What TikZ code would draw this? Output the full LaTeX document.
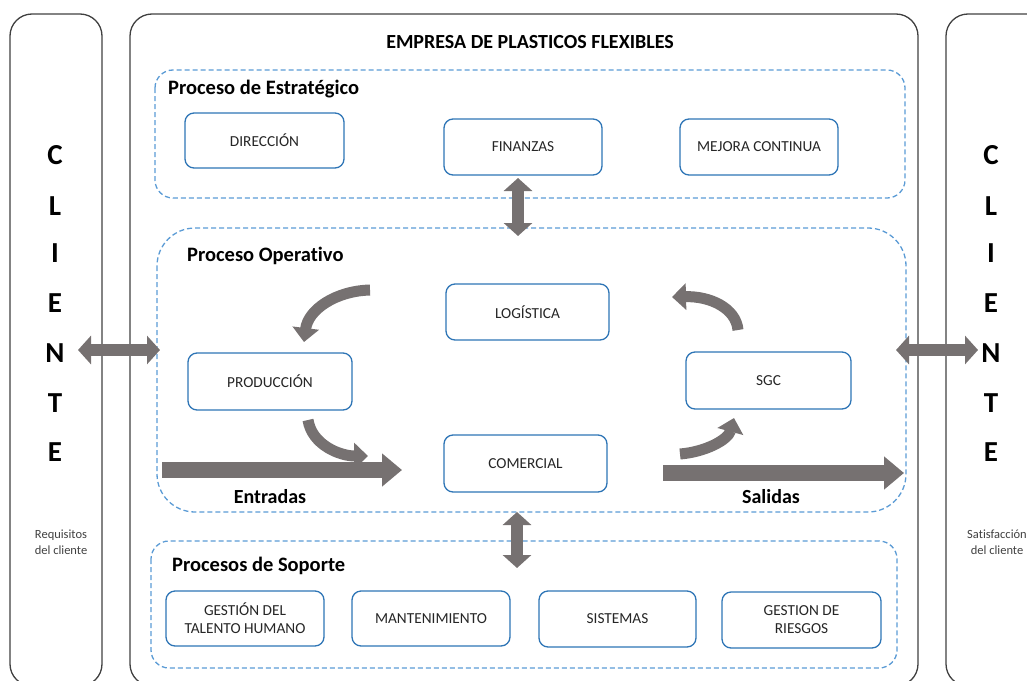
\documentclass[tikz,border=0pt]{standalone}
\usepackage{fontspec}
\setmainfont{Carlito}[Ligatures=NoCommon]
\usetikzlibrary{arrows.meta}
\definecolor{bblue}{HTML}{2E75B6}
\definecolor{dblue}{HTML}{5B9BD5}
\definecolor{agray}{HTML}{767171}
\definecolor{frame}{HTML}{404040}
\tikzset{
 proc/.style={draw=bblue, line width=1.3pt, rounded corners=9pt, fill=white, minimum width=158pt, minimum height=56pt, align=center, font=\fontsize{15.3}{18}\selectfont, text=black!85, inner sep=2pt},
 group/.style={draw=dblue, dash pattern=on 5pt off 3pt, line width=1.3pt, rounded corners=18pt},
 outer/.style={draw=frame, line width=1.3pt, rounded corners=22pt},
 grouplabel/.style={font=\fontsize{20.5}{24}\selectfont\bfseries, anchor=west, inner sep=0pt},
 letter/.style={font=\fontsize{29}{32}\selectfont\bfseries, inner sep=0pt},
 small/.style={font=\fontsize{12.5}{16}\selectfont, align=center, text=black!75, inner sep=0pt},
 dblarrow/.style={draw=agray, line width=12pt, {Triangle[length=13pt,width=28pt]}-{Triangle[length=13pt,width=28pt]}},
 bigarrow/.style={draw=agray, line width=16pt, -{Triangle[length=20pt,width=32pt]}},
 curvarrow/.style={draw=agray, line width=11pt, -{Triangle[length=14pt,width=26pt]}},
 flowlabel/.style={font=\fontsize{20}{24}\selectfont\bfseries, inner sep=0pt},
}
\begin{document}
\begin{tikzpicture}[x=1pt,y=-1pt]
\useasboundingbox (0,0) rectangle (1027,680);
\clip (0,0) rectangle (1027,680);
% outer frames
\draw[outer] (10,14) rectangle (102,686);
\draw[outer] (130,14) rectangle (918,686);
\draw[outer] (946,14) rectangle (1060,686);
\node[font=\fontsize{20}{24}\selectfont\bfseries] (title) at (530,42) {EMPRESA DE PLASTICOS FLEXIBLES};
% client letters
\foreach \l/\y [count=\i] in {C/155,L/206,I/253,E/303,N/353,T/403,E/452}{
  \node[letter] (lc\i) at (55,\y) {\l};
  \node[letter] (rc\i) at (991,\y) {\l};
}
\node[small] (req) at (61,542) {Requisitos\\del cliente};
\node[small] (sat) at (997,542) {Satisfacción\\del cliente};
% groups
\draw[group] (155,70) rectangle (905,198);
\draw[group, rounded corners=38pt] (157,228) rectangle (906,512);
\draw[group] (151,541) rectangle (897,668);
\node[grouplabel] (gl1) at (168,89) {Proceso de Estratégico};
\node[grouplabel] (gl2) at (187,256) {Proceso Operativo};
\node[grouplabel] (gl3) at (172,566) {Procesos de Soporte};
% strategic
\node[proc, minimum width=159pt, minimum height=55pt] (dir) at (264.5,140.5) {DIRECCIÓN};
\node[proc] (fin) at (523,147) {FINANZAS};
\node[proc] (mej) at (759,147) {MEJORA CONTINUA};
% operative
\node[proc, minimum width=163pt, minimum height=56pt] (log) at (527.5,312) {LOGÍSTICA};
\node[proc, minimum width=164pt, minimum height=57pt] (prod) at (270,381.5) {PRODUCCIÓN};
\node[proc, minimum width=165pt, minimum height=57pt] (sgc) at (768.5,380.5) {SGC};
\node[proc, minimum width=163pt, minimum height=57pt] (com) at (525.5,463.5) {COMERCIAL};
% support
\node[proc, minimum height=55pt] (gth) at (245,618.5) {GESTIÓN DEL\\TALENTO HUMANO};
\node[proc, minimum height=55pt] (man) at (431,618.5) {MANTENIMIENTO};
\node[proc, minimum width=157pt, minimum height=56pt] (sis) at (617.5,619) {SISTEMAS};
\node[proc, minimum width=159pt, minimum height=56pt] (ger) at (801.5,620) {GESTION DE\\RIESGOS};
% arrow end points
\coordinate (v1a) at (518,178);
\coordinate (v1b) at (518,236);
\coordinate (v2a) at (517,512);
\coordinate (v2b) at (517,568);
\coordinate (h1a) at (78,350);
\coordinate (h1b) at (160,350);
\coordinate (h2a) at (896,350);
\coordinate (h2b) at (978,350);
\coordinate (ein) at (162,470);
\coordinate (eout) at (402,470);
\coordinate (sin) at (663,473);
\coordinate (sout) at (904,473);
\draw[dblarrow] (v1a) -- (v1b);
\draw[dblarrow] (v2a) -- (v2b);
\draw[dblarrow] (h1a) -- (h1b);
\draw[dblarrow] (h2a) -- (h2b);
\draw[bigarrow] (ein) -- (eout);
\draw[bigarrow] (sin) -- (sout);
\node[flowlabel] (ent) at (270,497) {Entradas};
\node[flowlabel] (sal) at (771,497) {Salidas};
% curved arrows
\draw[curvarrow] (370,290) .. controls (335,291) and (308,310) .. (304,342);
\draw[curvarrow] (308,420) .. controls (312,445) and (340,456) .. (368,456);
\draw[curvarrow] (738,330) .. controls (736,308) and (710,296) .. (672,297);
\draw[curvarrow] (680,454) .. controls (705,452) and (728,440) .. (734,418);
\end{tikzpicture}
\end{document}
